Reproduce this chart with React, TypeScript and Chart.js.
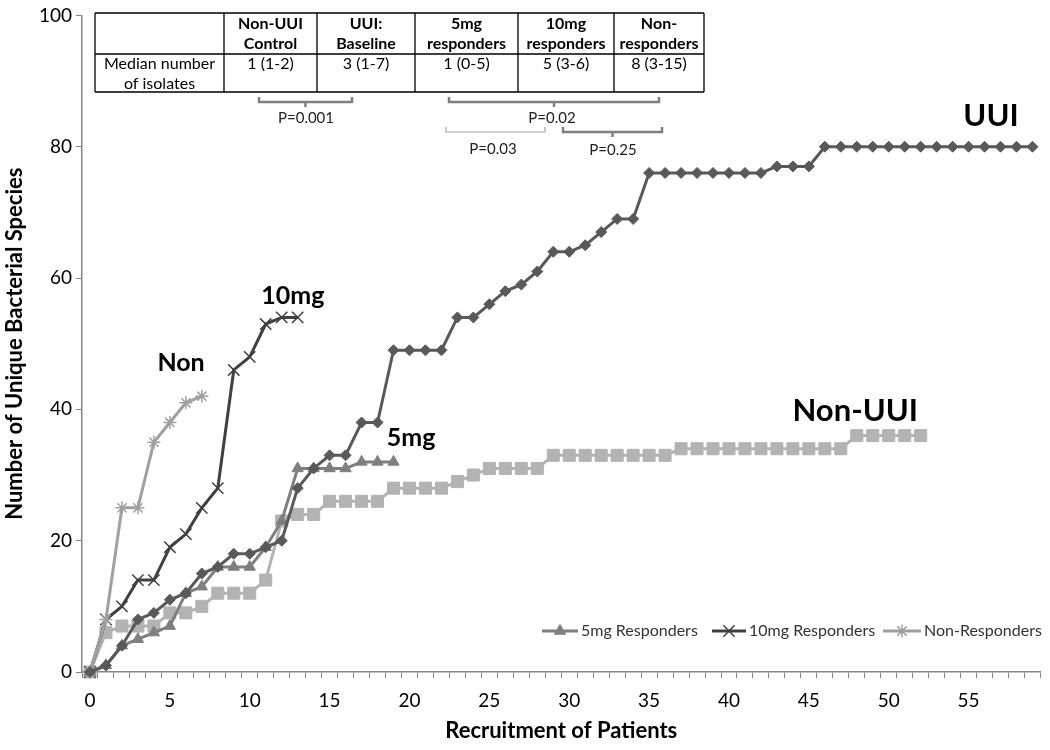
import React, { useEffect, useRef } from 'react';
import { Chart, registerables } from 'chart.js';
import { drawPoint } from 'chart.js/helpers';

Chart.register(...registerables);

const FONT = 'Lato, "Noto Sans", sans-serif';

const xCategories = [
  '0', '1', '2', '3', '4', '5', '6', '7', '8', '9',
  '10', '11', '12', '13', '14', '15', '16', '17', '18', '19',
  '20', '21', '22', '23', '24', '25', '26', '27', '28', '29',
  '30', '31', '32', '33', '34', '35', '36', '37', '38', '39',
  '40', '41', '42', '43', '44', '45', '46', '47', '48', '49',
  '50', '51', '52', '53', '54', '55', '56', '57', '58', '59',
];

const uuiValues = [
  0, 1, 4, 8, 9, 11, 12, 15, 16, 18,
  18, 19, 20, 28, 31, 33, 33, 38, 38, 49,
  49, 49, 49, 54, 54, 56, 58, 59, 61, 64,
  64, 65, 67, 69, 69, 76, 76, 76, 76, 76,
  76, 76, 76, 77, 77, 77, 80, 80, 80, 80,
  80, 80, 80, 80, 80, 80, 80, 80, 80, 80,
];

const nonUuiValues = [
  0, 6, 7, 7, 7, 9, 9, 10, 12, 12,
  12, 14, 23, 24, 24, 26, 26, 26, 26, 28,
  28, 28, 28, 29, 30, 31, 31, 31, 31, 33,
  33, 33, 33, 33, 33, 33, 33, 34, 34, 34,
  34, 34, 34, 34, 34, 34, 34, 34, 36, 36,
  36, 36, 36,
];

const mg5Values = [0, 1, 4, 5, 6, 7, 12, 13, 16, 16, 16, 19, 23, 31, 31, 31, 31, 32, 32, 32];
const mg10Values = [0, 8, 10, 14, 14, 19, 21, 25, 28, 46, 48, 53, 54, 54];
const nonRespValues = [0, 8, 25, 25, 35, 38, 41, 42];

const yMin = 0;
const yMax = 100;
const yStep = 20;
const xLabelEvery = 5;

const xTitle = 'Recruitment of Patients';
const yTitle = 'Number of Unique Bacterial Species';

const tableHeader = ['', 'Non-UUI\nControl', 'UUI:\nBaseline', '5mg\nresponders', '10mg\nresponders', 'Non-\nresponders'];
const tableRow = ['Median number\nof isolates', '1 (1-2)', '3 (1-7)', '1 (0-5)', '5 (3-6)', '8 (3-15)'];

const pLabels = ['P=0.001', 'P=0.02', 'P=0.03', 'P=0.25'];

// series annotation labels (positioned in data units)
const seriesLabels = [
  { text: 'UUI', x: 56.4, y: 84.7, size: 31 },
  { text: 'Non-UUI', x: 47.9, y: 39.8, size: 31 },
  { text: '10mg', x: 12.7, y: 57.3, size: 25 },
  { text: 'Non', x: 5.7, y: 47, size: 25 },
  { text: '5mg', x: 20.1, y: 35.7, size: 25 },
];

const COLORS = {
  uui: '#595959',
  nonUui: '#b3b3b3',
  mg5: '#7f7f7f',
  mg10: '#404040',
  nonResp: '#a0a0a0',
};

const overlayPlugin = {
  id: 'overlay',
  afterDraw(chart: any) {
    const ctx = chart.ctx as CanvasRenderingContext2D;
    const xs = chart.scales.x;
    const ys = chart.scales.y;
    const area = chart.chartArea;
    ctx.save();

    // axis titles
    ctx.fillStyle = '#000';
    ctx.textAlign = 'center';
    ctx.textBaseline = 'middle';
    ctx.font = `bold 22px ${FONT}`;
    ctx.fillText(xTitle, (area.left + area.right) / 2, 731);
    ctx.save();
    ctx.translate(15, (area.top + area.bottom) / 2);
    ctx.rotate(-Math.PI / 2);
    ctx.fillText(yTitle, 0, 0);
    ctx.restore();

    // series labels
    for (const l of seriesLabels) {
      ctx.font = `bold ${l.size}px ${FONT}`;
      ctx.fillText(l.text, xs.getPixelForValue(l.x), ys.getPixelForValue(l.y));
    }

    // table
    const cols = [95, 224, 317, 415, 518, 614, 704];
    const rows = [13, 54, 92];
    ctx.fillStyle = '#fff';
    ctx.fillRect(cols[0], rows[0], cols[cols.length - 1] - cols[0], rows[2] - rows[0]);
    ctx.strokeStyle = '#000';
    ctx.lineWidth = 1.3;
    ctx.beginPath();
    for (const r of rows) {
      ctx.moveTo(cols[0], r);
      ctx.lineTo(cols[cols.length - 1], r);
    }
    for (const c of cols) {
      ctx.moveTo(c, rows[0]);
      ctx.lineTo(c, rows[2]);
    }
    ctx.stroke();
    ctx.fillStyle = '#000';
    for (let i = 0; i < tableHeader.length; i++) {
      const cx = (cols[i] + cols[i + 1]) / 2;
      ctx.font = `bold 16px ${FONT}`;
      tableHeader[i].split('\n').forEach((t, k) => ctx.fillText(t, cx, 24 + k * 20));
      ctx.font = `16px ${FONT}`;
      tableRow[i].split('\n').forEach((t, k) => ctx.fillText(t, cx, 64 + k * 20));
    }

    // brackets
    const bracket = (x1: number, x2: number, y: number, color: string, w: number, tick: boolean) => {
      ctx.strokeStyle = color;
      ctx.lineWidth = w;
      ctx.beginPath();
      ctx.moveTo(x1, y - 5);
      ctx.lineTo(x1, y);
      ctx.lineTo(x2, y);
      ctx.lineTo(x2, y - 5);
      if (tick) {
        const m = (x1 + x2) / 2;
        ctx.moveTo(m, y);
        ctx.lineTo(m, y + 5);
      }
      ctx.stroke();
    };
    bracket(259, 352, 102, '#808080', 2.5, true);
    bracket(449, 659, 102, '#808080', 2.5, true);
    bracket(446, 545, 132, '#a6a6a6', 1.2, false);
    bracket(563, 662, 132, '#808080', 2.5, true);
    ctx.fillStyle = '#222';
    ctx.font = `15px ${FONT}`;
    ctx.fillText(pLabels[0], 306, 118);
    ctx.fillText(pLabels[1], 552, 118);
    ctx.fillText(pLabels[2], 493, 149);
    ctx.fillText(pLabels[3], 613, 150);

    // legend
    const legendItems = [
      { ds: 2, x1: 542, x2: 578 },
      { ds: 3, x1: 712, x2: 746 },
      { ds: 4, x1: 883, x2: 921 },
    ];
    const ly = 631;
    ctx.textAlign = 'left';
    ctx.font = `16px ${FONT}`;
    for (const it of legendItems) {
      const d = chart.data.datasets[it.ds];
      ctx.strokeStyle = d.borderColor;
      ctx.lineWidth = 3;
      ctx.beginPath();
      ctx.moveTo(it.x1, ly);
      ctx.lineTo(it.x2, ly);
      ctx.stroke();
      ctx.fillStyle = d.pointBackgroundColor;
      ctx.strokeStyle = d.pointBorderColor;
      ctx.lineWidth = d.pointBorderWidth;
      drawPoint(ctx, { pointStyle: d.pointStyle, radius: d.pointRadius, rotation: 0, borderWidth: d.pointBorderWidth }, (it.x1 + it.x2) / 2, ly);
      ctx.fillStyle = '#333';
      ctx.fillText(d.label, it.x2 + 3, ly);
    }
    ctx.restore();
  },
};

function makeDataset(label: string, data: number[], color: string, style: string, radius: number, bw: number, order: number) {
  return {
    label,
    data,
    borderColor: color,
    backgroundColor: color,
    borderWidth: 3,
    pointStyle: style,
    pointRadius: radius,
    pointHoverRadius: radius,
    pointBackgroundColor: color,
    pointBorderColor: color,
    pointBorderWidth: bw,
    tension: 0,
    clip: false,
    order,
  };
}

export default function App() {
  const ref = useRef<HTMLCanvasElement>(null);
  useEffect(() => {
    if (!ref.current) return;
    const chart = new Chart(ref.current, {
      type: 'line',
      data: {
        labels: xCategories,
        datasets: [
          makeDataset('UUI', uuiValues, COLORS.uui, 'rectRot', 5.5, 1, 1),
          makeDataset('Non-UUI', nonUuiValues, COLORS.nonUui, 'rect', 8.5, 1, 5),
          makeDataset('5mg Responders', mg5Values, COLORS.mg5, 'triangle', 6.5, 1, 4),
          makeDataset('10mg Responders', mg10Values, COLORS.mg10, 'crossRot', 8, 1.5, 3),
          makeDataset('Non-Responders', nonRespValues, COLORS.nonResp, 'star', 6.5, 1.5, 2),
        ] as any,
      },
      options: {
        animation: false,
        responsive: false,
        events: [],
        layout: { padding: { top: 14, right: 8, left: 0, bottom: 0 } },
        plugins: {
          legend: { display: false },
          tooltip: { enabled: false },
          title: { display: false },
        },
        scales: {
          x: {
            type: 'category',
            offset: true,
            grid: {
              offset: true,
              drawOnChartArea: false,
              drawTicks: true,
              tickLength: 6,
              color: '#868686',
              lineWidth: 1,
            },
            border: { display: true, color: '#868686', width: 1.5 },
            ticks: {
              autoSkip: false,
              maxRotation: 0,
              padding: 11,
              color: '#000',
              font: { family: FONT, size: 19 },
              callback: (_v: any, i: number) => (i % xLabelEvery === 0 ? xCategories[i] : ''),
            },
            afterFit: (s: any) => { s.height = 78; },
          },
          y: {
            min: yMin,
            max: yMax,
            grid: {
              drawOnChartArea: false,
              drawTicks: true,
              tickLength: 6,
              color: '#868686',
            },
            border: { display: true, color: '#868686', width: 1.5 },
            ticks: {
              stepSize: yStep,
              padding: 4,
              color: '#000',
              font: { family: FONT, size: 19 },
            },
            afterFit: (s: any) => { s.width = 82; },
          },
        },
      },
      plugins: [overlayPlugin],
    });
    return () => chart.destroy();
  }, []);
  return (
    <div style={{ position: 'absolute', left: 0, top: 0, width: 1050, height: 750, background: '#fff' }}>
      <canvas ref={ref} width={1050} height={750} />
    </div>
  );
}
